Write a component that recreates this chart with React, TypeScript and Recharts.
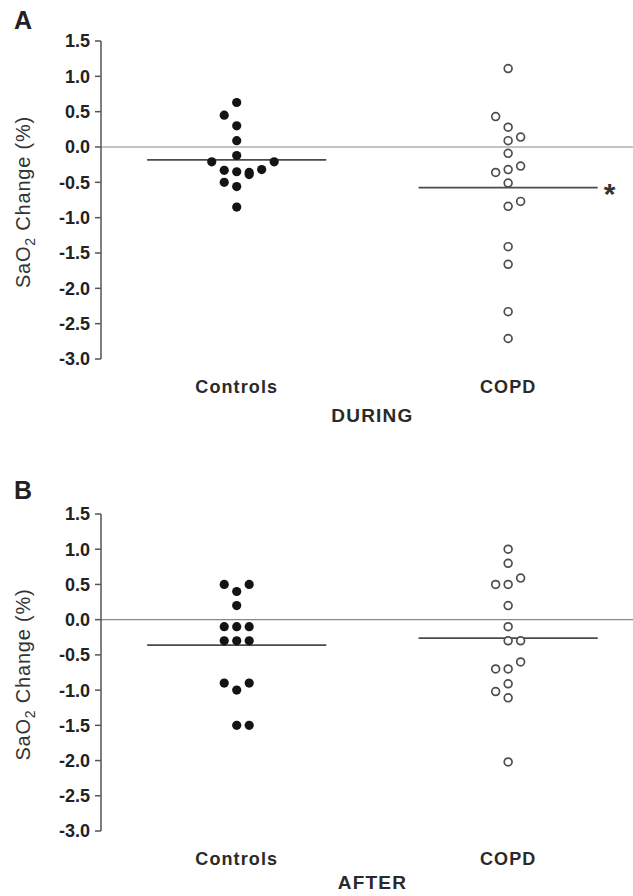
import React from "react";
import { ScatterChart, Scatter, XAxis, YAxis, ReferenceLine } from "recharts";

// categories and where they sit on the numeric x axis
const groups = ["Controls", "COPD"];
const groupX = [1, 3];
const yTicks = [-3, -2.5, -2, -1.5, -1, -0.5, 0, 0.5, 1, 1.5];

// A - DURING
const duringControls = [0.63, 0.45, 0.3, 0.09, -0.12, -0.21, -0.21, -0.33, -0.35, -0.36, -0.39, -0.32, -0.5, -0.56, -0.85];
const duringControlsCol = [0, -1, 0, 0, 0, -2, 3, -1, 0, 1, 1, 2, -1, 0, 0];
const duringCopd = [1.11, 0.43, 0.28, 0.14, 0.09, -0.09, -0.27, -0.32, -0.36, -0.51, -0.77, -0.84, -1.41, -1.66, -2.33, -2.71];
const duringCopdCol = [0, -1, 0, 1, 0, 0, 1, 0, -1, 0, 1, 0, 0, 0, 0, 0];

// B - AFTER
const afterControls = [0.5, 0.5, 0.4, 0.2, -0.1, -0.1, -0.1, -0.3, -0.3, -0.3, -0.9, -0.9, -1.0, -1.5, -1.5];
const afterControlsCol = [-1, 1, 0, 0, -1, 0, 1, -1, 0, 1, -1, 1, 0, 0, 1];
const afterCopd = [1.0, 0.8, 0.59, 0.5, 0.5, 0.2, -0.1, -0.3, -0.3, -0.6, -0.7, -0.7, -0.91, -1.02, -1.11, -2.02];
const afterCopdCol = [0, 0, 1, -1, 0, 0, 0, 0, 1, 1, -1, 0, 0, -1, 0, 0];

const FONT = '"Liberation Sans", Arial, Helvetica, sans-serif';
const X_MAX = 3.92;
const COL_STEP = 0.092; // horizontal spread of stacked dots
const MEAN_HALF = 0.66;

const toPoints = (vals: number[], cols: number[], gx: number) =>
  vals.map((v, i) => ({ x: gx + cols[i] * COL_STEP, y: v }));
const mean = (vals: number[]) => vals.reduce((a, b) => a + b, 0) / vals.length;

const FilledDot = (props: any) => <circle cx={props.cx} cy={props.cy} r={4.6} fill="#141414" />;
const OpenDot = (props: any) => (
  <circle cx={props.cx} cy={props.cy} r={3.9} fill="#fff" stroke="#4d4d4d" strokeWidth={1.7} />
);

const YLabel = (props: any) => {
  const vb = props.viewBox;
  const cy = vb.y + vb.height / 2 + 2;
  return (
    <text
      transform={`translate(30, ${cy}) rotate(-90)`}
      textAnchor="middle"
      fontFamily={FONT}
      fontSize={20}
      letterSpacing={0.8}
      fill="#333"
    >
      SaO<tspan dy={5} fontSize={14}>2</tspan>
      <tspan dy={-5}> Change (%)</tspan>
    </text>
  );
};

const XTitle = (props: any) => {
  const vb = props.viewBox;
  return (
    <text
      x={vb.x + (vb.width * 2) / X_MAX}
      y={vb.y + props.offsetY}
      textAnchor="middle"
      fontFamily={FONT}
      fontSize={19}
      fontWeight="bold"
      letterSpacing={1.2}
      fill="#2a2a2a"
    >
      {props.title}
    </text>
  );
};

const Star = (props: any) => {
  const vb = props.viewBox;
  return (
    <text x={vb.x + vb.width + 6} y={vb.y + 16} fontFamily={FONT} fontSize={30} fontWeight="bold" fill="#333">
      *
    </text>
  );
};

type PanelProps = {
  controls: number[];
  controlsCol: number[];
  copd: number[];
  copdCol: number[];
  title: string;
  titleY: number;
  top: number;
  axisHeight: number;
  star?: boolean;
};

function Panel({ controls, controlsCol, copd, copdCol, title, titleY, top, axisHeight, star }: PanelProps) {
  const mC = mean(controls);
  const mP = mean(copd);
  return (
    <ScatterChart width={633} height={448} margin={{ top, right: 0, bottom: 0, left: 0 }}>
      <XAxis
        type="number"
        dataKey="x"
        domain={[0, X_MAX]}
        allowDataOverflow
        ticks={groupX}
        interval={0}
        tickFormatter={(v: number) => groups[groupX.indexOf(v)]}
        axisLine={false}
        tickLine={false}
        tickMargin={15}
        height={axisHeight}
        tick={{ fill: "#2a2a2a", fontSize: 18, fontWeight: "bold", fontFamily: FONT, letterSpacing: 1.1 }}
        label={{ content: (p: any) => <XTitle {...p} title={title} offsetY={titleY} /> }}
      />
      <YAxis
        type="number"
        dataKey="y"
        domain={[-3, 1.5]}
        ticks={yTicks}
        interval={0}
        width={101}
        tickFormatter={(v: number) => v.toFixed(1)}
        axisLine={{ stroke: "#555", strokeWidth: 1.5 }}
        tickLine={{ stroke: "#555", strokeWidth: 1.5 }}
        tickSize={6}
        tickMargin={5}
        tick={{ fill: "#222", fontSize: 18, fontWeight: "bold", fontFamily: FONT }}
        label={{ content: (p: any) => <YLabel {...p} /> }}
      />
      <ReferenceLine y={0} stroke="#888" strokeWidth={1.2} />
      <ReferenceLine
        segment={[
          { x: groupX[0] - MEAN_HALF, y: mC },
          { x: groupX[0] + MEAN_HALF, y: mC },
        ]}
        stroke="#4a4a4a"
        strokeWidth={1.8}
      />
      <ReferenceLine
        segment={[
          { x: groupX[1] - MEAN_HALF, y: mP },
          { x: groupX[1] + MEAN_HALF, y: mP },
        ]}
        stroke="#4a4a4a"
        strokeWidth={1.8}
        label={star ? { content: (p: any) => <Star {...p} /> } : undefined}
      />
      <Scatter data={toPoints(controls, controlsCol, groupX[0])} shape={FilledDot} isAnimationActive={false} />
      <Scatter data={toPoints(copd, copdCol, groupX[1])} shape={OpenDot} isAnimationActive={false} />
    </ScatterChart>
  );
}

const letterStyle: React.CSSProperties = {
  position: "absolute",
  left: 14,
  fontFamily: FONT,
  fontWeight: "bold",
  fontSize: 25,
  color: "#222",
  lineHeight: 1,
};

export default function App() {
  return (
    <div style={{ position: "absolute", left: 0, top: 0, width: 633, height: 896, background: "#fff", overflow: "hidden" }}>
      <div style={{ position: "absolute", left: 0, top: 0 }}>
        <Panel
          controls={duringControls}
          controlsCol={duringControlsCol}
          copd={duringCopd}
          copdCol={duringCopdCol}
          title="DURING"
          titleY={63}
          top={41}
          axisHeight={89}
          star
        />
      </div>
      <div style={{ position: "absolute", left: 0, top: 448 }}>
        <Panel
          controls={afterControls}
          controlsCol={afterControlsCol}
          copd={afterCopd}
          copdCol={afterCopdCol}
          title="AFTER"
          titleY={58}
          top={66}
          axisHeight={65}
        />
      </div>
      <span style={{ ...letterStyle, top: 8 }}>A</span>
      <span style={{ ...letterStyle, top: 478 }}>B</span>
    </div>
  );
}
